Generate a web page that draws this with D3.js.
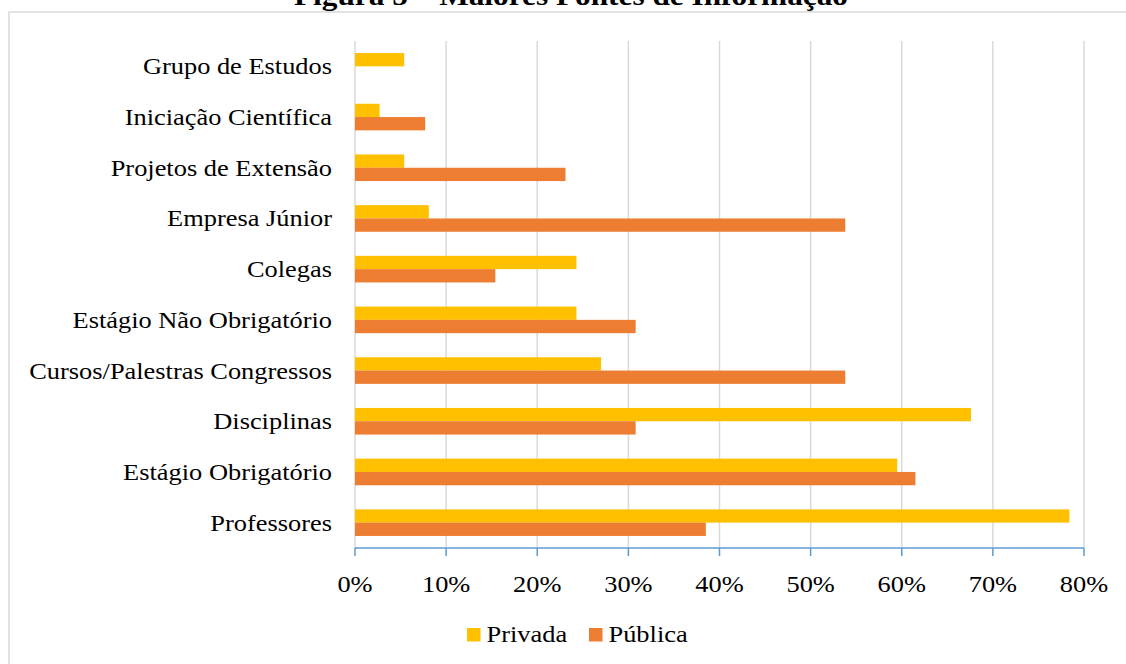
<!DOCTYPE html>
<html>
<head>
<meta charset="utf-8">
<script src="https://cdn.jsdelivr.net/npm/d3@7"></script>
<style>
  html, body { margin: 0; padding: 0; background: #fff; }
  svg { display: block; font-family: "Liberation Serif", "Times New Roman", serif; }
</style>
</head>
<body>
<svg id="chart" width="1126" height="664"></svg>
<script>
// Sources of information, share of respondents by institution type
const categories = [
  "Grupo de Estudos",
  "Iniciação Científica",
  "Projetos de Extensão",
  "Empresa Júnior",
  "Colegas",
  "Estágio Não Obrigatório",
  "Cursos/Palestras Congressos",
  "Disciplinas",
  "Estágio Obrigatório",
  "Professores"
];
const privada = [5.4, 2.7, 5.4, 8.1, 24.3, 24.3, 27.0, 67.6, 59.5, 78.4];
const publica = [0, 7.7, 23.1, 53.8, 15.4, 30.8, 53.8, 30.8, 61.5, 38.5];
const seriesNames = ["Privada", "Pública"];
const tickValues = [0, 10, 20, 30, 40, 50, 60, 70, 80];
const titleText = "Figura 5 – Maiores Fontes de Informação";

const colors = { "Privada": "#ffc000", "Pública": "#ed7d31" };
const SX = 1.10;       // horizontal stretch of the type
const FS = 24;         // label font size

const svg = d3.select("#chart");

// outer frame
svg.append("rect")
  .attr("x", 9).attr("y", 12).attr("width", 1140).attr("height", 700)
  .attr("fill", "none").attr("stroke", "#d9d9d9").attr("stroke-width", 1.5);

// title (partly above the page edge)
svg.append("text")
  .attr("transform", `translate(571,5) scale(1.16,1)`)
  .attr("text-anchor", "middle")
  .attr("font-weight", "bold")
  .attr("font-size", 27)
  .attr("fill", "#000")
  .text(titleText);

const plot = { left: 355, right: 1084, top: 41, bottom: 548 };

const x = d3.scaleLinear().domain([0, 80]).range([plot.left, plot.right]);
const y = d3.scaleBand().domain(categories).range([plot.top, plot.bottom])
  .paddingInner(0.475).paddingOuter(0.2375);
const ySub = d3.scaleBand().domain(seriesNames).range([0, y.bandwidth()]);

// vertical gridlines
svg.append("g").selectAll("line").data(tickValues).join("line")
  .attr("x1", d => x(d)).attr("x2", d => x(d))
  .attr("y1", plot.top).attr("y2", plot.bottom)
  .attr("stroke", "#d9d9d9").attr("stroke-width", 1.5);

// bars
const rows = categories.map((c, i) => ({ c, vals: [
  { s: "Privada", v: privada[i] },
  { s: "Pública", v: publica[i] }
]}));

const groups = svg.append("g").selectAll("g").data(rows).join("g")
  .attr("transform", d => `translate(0,${y(d.c)})`);
groups.selectAll("rect").data(d => d.vals.filter(e => e.v > 0)).join("rect")
  .attr("x", x(0))
  .attr("y", d => ySub(d.s))
  .attr("width", d => x(d.v) - x(0))
  .attr("height", ySub.bandwidth())
  .attr("fill", d => colors[d.s]);

// x axis line and ticks
const axis = svg.append("g");
axis.append("line")
  .attr("x1", plot.left).attr("x2", plot.right)
  .attr("y1", plot.bottom).attr("y2", plot.bottom)
  .attr("stroke", "#5b9bd5").attr("stroke-width", 1.5);
axis.selectAll("line.tick").data(tickValues).join("line")
  .attr("class", "tick")
  .attr("x1", d => x(d)).attr("x2", d => x(d))
  .attr("y1", plot.bottom).attr("y2", plot.bottom + 8)
  .attr("stroke", "#5b9bd5").attr("stroke-width", 1.5);
axis.selectAll("text").data(tickValues).join("text")
  .attr("transform", d => `translate(${x(d)},592) scale(${SX},1)`)
  .attr("text-anchor", "middle")
  .attr("font-size", FS)
  .attr("fill", "#000")
  .text(d => d3.format(".0%")(d / 100));

// category labels
svg.append("g").selectAll("text").data(categories).join("text")
  .attr("transform", d => `translate(332,${y(d) + y.bandwidth() / 2 + 8}) scale(${SX},1)`)
  .attr("text-anchor", "end")
  .attr("font-size", FS)
  .attr("fill", "#000")
  .text(d => d);

// legend
const legendItems = [
  { s: "Privada", x: 467 },
  { s: "Pública", x: 589 }
];
const lg = svg.append("g").selectAll("g").data(legendItems).join("g")
  .attr("transform", d => `translate(${d.x},628)`);
lg.append("rect").attr("width", 13.5).attr("height", 13.5)
  .attr("fill", d => colors[d.s]);
lg.append("text")
  .attr("transform", `translate(19.5,14) scale(${SX},1)`)
  .attr("font-size", FS)
  .attr("fill", "#000")
  .text(d => d.s);
</script>
</body>
</html>
